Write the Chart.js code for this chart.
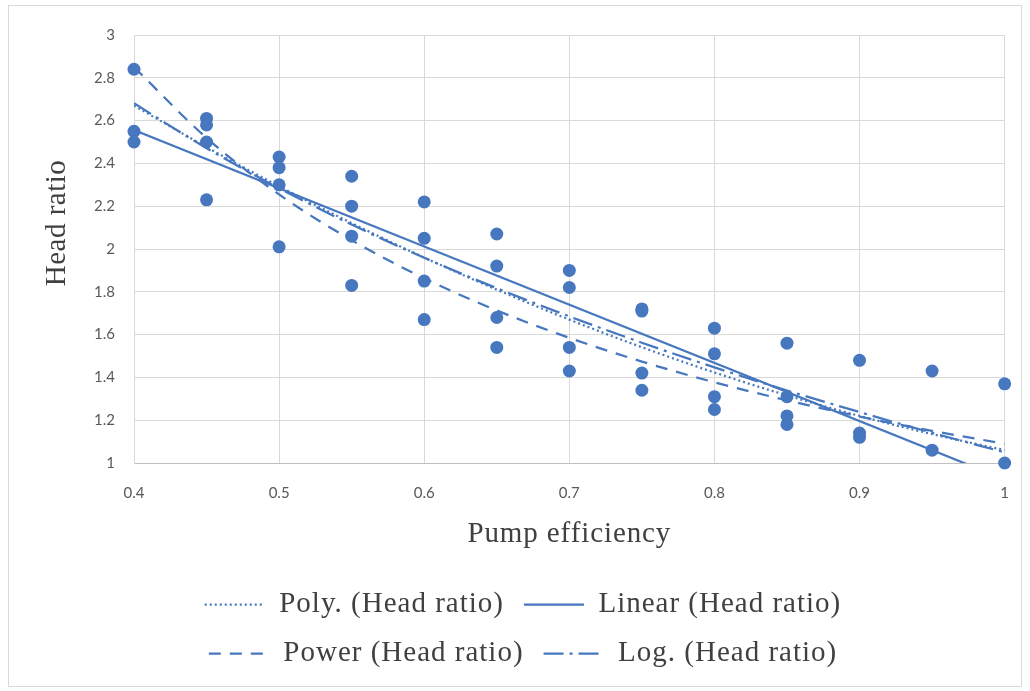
<!DOCTYPE html>
<html><head><meta charset="utf-8">
<script src="https://cdn.jsdelivr.net/npm/chart.js@4.4.1/dist/chart.umd.min.js"></script>
<style>
html,body{margin:0;padding:0;background:#fff;}
#frame{position:absolute;left:8px;top:5px;width:1014px;height:682px;border:1px solid #d9d9d9;box-sizing:border-box;}
canvas{position:absolute;left:0;top:0;}
</style></head><body>
<div id="frame"></div>
<canvas id="c" width="1030" height="691"></canvas>
<script>
// Scatter data (pump efficiency vs head ratio)
const pumpEfficiency = [
  0.4, 0.4, 0.4,
  0.45, 0.45, 0.45, 0.45,
  0.5, 0.5, 0.5, 0.5,
  0.55, 0.55, 0.55, 0.55,
  0.6, 0.6, 0.6, 0.6,
  0.65, 0.65, 0.65, 0.65,
  0.7, 0.7, 0.7, 0.7,
  0.75, 0.75, 0.75, 0.75,
  0.8, 0.8, 0.8, 0.8,
  0.85, 0.85, 0.85, 0.85,
  0.9, 0.9, 0.9,
  0.95, 0.95,
  1.0, 1.0
];
const headRatio = [
  2.84, 2.55, 2.50,
  2.61, 2.58, 2.50, 2.23,
  2.43, 2.38, 2.30, 2.01,
  2.34, 2.20, 2.06, 1.83,
  2.22, 2.05, 1.85, 1.67,
  2.07, 1.92, 1.68, 1.54,
  1.90, 1.82, 1.54, 1.43,
  1.72, 1.71, 1.42, 1.34,
  1.63, 1.51, 1.31, 1.25,
  1.56, 1.31, 1.22, 1.18,
  1.48, 1.14, 1.12,
  1.43, 1.06,
  1.37, 1.00
];
// Trend lines
const trendX      = [0.4, 0.45, 0.5, 0.55, 0.6, 0.65, 0.7, 0.75, 0.8, 0.85, 0.9, 0.95, 1.0];
const polyTrend   = [2.67, 2.476, 2.293, 2.121, 1.960, 1.810, 1.670, 1.541, 1.423, 1.316, 1.220, 1.135, 1.06];
const powerTrend  = [2.85, 2.519, 2.255, 2.041, 1.863, 1.713, 1.585, 1.474, 1.377, 1.293, 1.217, 1.150, 1.09];
const logTrend    = [2.681, 2.471, 2.284, 2.114, 1.959, 1.817, 1.685, 1.562, 1.447, 1.339, 1.238, 1.141, 1.05];
const linearX     = [0.4, 1.0];
const linearTrend = [2.556, 0.924];

const xTickLabels = ['0.4', '0.5', '0.6', '0.7', '0.8', '0.9', '1'];
const yTickLabels = ['1', '1.2', '1.4', '1.6', '1.8', '2', '2.2', '2.4', '2.6', '2.8', '3'];
const seriesNames = ['Poly. (Head ratio)', 'Linear (Head ratio)', 'Power (Head ratio)', 'Log. (Head ratio)'];
const xTitle = 'Pump efficiency';
const yTitle = 'Head ratio';

const BLUE = '#4677BF';
const SERIF = '"Liberation Serif", "Times New Roman", serif';
const pts = (xs, ys) => xs.map((x, i) => ({x: x, y: ys[i]}));

const trendStyle = {
  type: 'scatter', showLine: true, pointRadius: 0, pointHoverRadius: 0,
  borderColor: BLUE, backgroundColor: BLUE, borderWidth: 2.25, pointStyle: 'line',
  fill: false, cubicInterpolationMode: 'monotone'
};

const chart = new Chart(document.getElementById('c'), {
  type: 'scatter',
  data: {
    datasets: [
      { label: 'Head ratio', data: pts(pumpEfficiency, headRatio), pointRadius: 6.5,
        pointBackgroundColor: BLUE, pointBorderWidth: 0, borderColor: BLUE, showLine: false, clip: 10 },
      Object.assign({}, trendStyle, { label: seriesNames[0], data: pts(trendX, polyTrend), borderDash: [2, 3] }),
      Object.assign({}, trendStyle, { label: seriesNames[1], data: pts(linearX, linearTrend), borderDash: [] }),
      Object.assign({}, trendStyle, { label: seriesNames[2], data: pts(trendX, powerTrend), borderDash: [12, 9] }),
      Object.assign({}, trendStyle, { label: seriesNames[3], data: pts(trendX, logTrend), borderDash: [20, 6, 3, 6] })
    ]
  },
  options: {
    responsive: false, animation: false,
    layout: { padding: { top: 35, left: 40, right: 24, bottom: 13 } },
    plugins: {
      tooltip: { enabled: false },
      legend: {
        position: 'bottom',
        labels: {
          generateLabels: (ch) => {
            const items = Chart.defaults.plugins.legend.labels.generateLabels(ch);
            items.forEach((it) => {
              const ds = ch.data.datasets[it.datasetIndex];
              it.lineDash = ds.borderDash || [];
              it.lineWidth = ds.borderWidth;
              it.strokeStyle = ds.borderColor;
              it.fillStyle = ds.borderColor;
              it.pointStyle = 'line';
              it.lineCap = 'butt';
            });
            return items;
          },
          filter: (item) => item.datasetIndex !== 0,
          usePointStyle: true, pointStyle: 'line', pointStyleWidth: 60,
          padding: 20, color: '#404040',
          font: { family: SERIF, size: 29 }
        }
      }
    },
    scales: {
      x: {
        type: 'linear', min: 0.4, max: 1.0,
        afterFit: (s) => { s.height = 107; },
        ticks: { stepSize: 0.1, padding: 21, color: '#595959',
          font: { family: 'Lato, "Liberation Sans", sans-serif', size: 15 },
          callback: (v, i) => xTickLabels[i] },
        grid: { color: '#d9d9d9', lineWidth: 1, drawTicks: false },
        border: { color: '#bfbfbf', width: 1 },
        title: { display: true, text: xTitle, color: '#404040', padding: { top: 0, bottom: 18 },
          font: { family: SERIF, size: 29 } }
      },
      y: {
        type: 'linear', min: 1, max: 3,
        afterFit: (s) => { s.width = 94; },
        ticks: { stepSize: 0.2, padding: 19, color: '#595959',
          font: { family: 'Lato, "Liberation Sans", sans-serif', size: 15 },
          callback: (v, i) => yTickLabels[i] },
        grid: { color: '#d9d9d9', lineWidth: 1, drawTicks: false },
        border: { color: '#d9d9d9', width: 1 },
        title: { display: true, text: yTitle, color: '#404040', padding: { top: 0, bottom: 0 },
          font: { family: SERIF, size: 29 } }
      }
    }
  }
});

// Slightly wider serif text (the reference's text is horizontally stretched)
function wrap(obj, name, setup) {
  const orig = obj[name];
  obj[name] = function (...args) {
    const ctx = this.ctx;
    ctx.save();
    setup(ctx);
    const r = orig.apply(this, args);
    ctx.restore();
    return r;
  };
}
wrap(chart.legend, 'fit', (c) => { c.letterSpacing = '1px'; });
wrap(chart.legend, 'draw', (c) => { c.letterSpacing = '1px'; });
wrap(chart.scales.x, 'drawTitle', (c) => { c.letterSpacing = '0.9px'; });
wrap(chart.scales.y, 'drawTitle', (c) => { c.letterSpacing = '0.5px'; c.translate(0, -26); });
chart.update();
</script>
</body></html>
